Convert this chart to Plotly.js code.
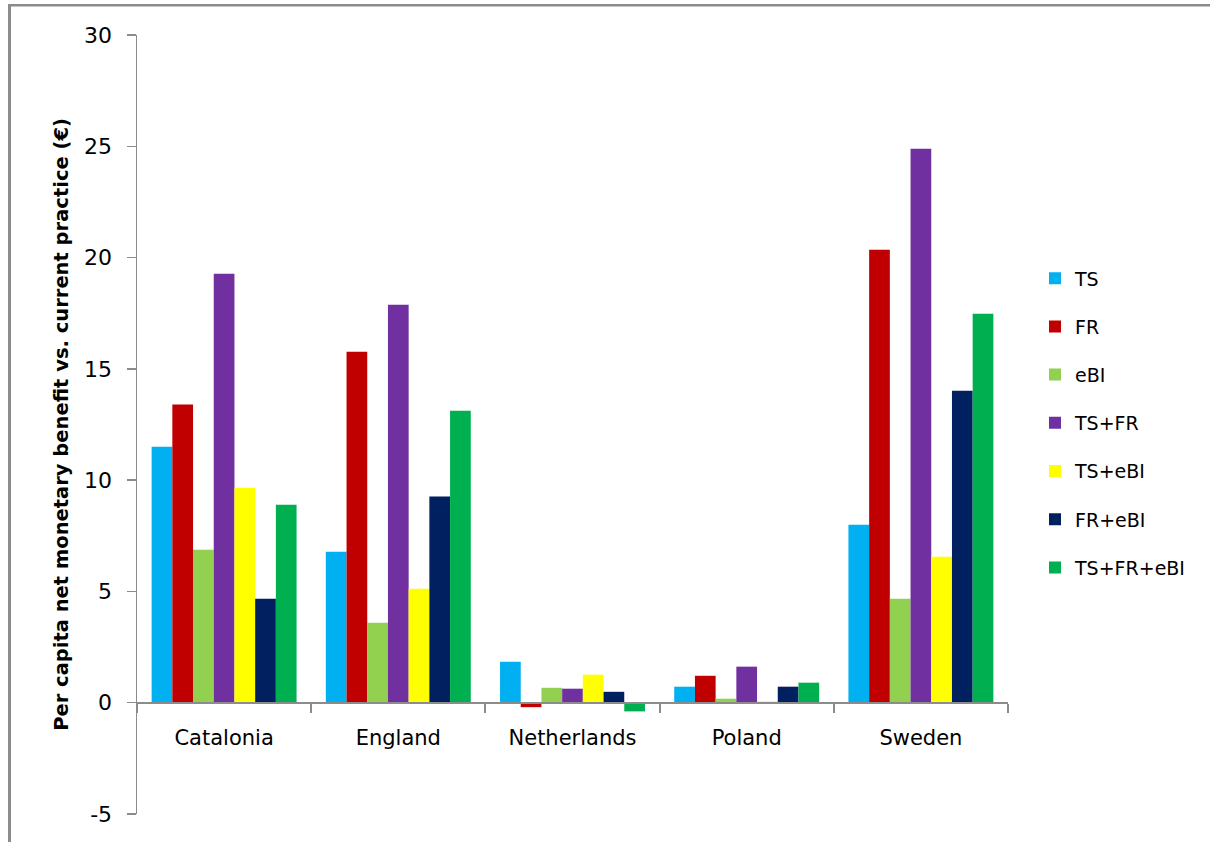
<!DOCTYPE html>
<html>
<head>
<meta charset="utf-8">
<script src="https://cdn.plot.ly/plotly-3.0.1.min.js"></script>
<style>
  html, body { margin: 0; padding: 0; background: #fff; overflow: hidden; }
  #chart { position: absolute; left: 0; top: 0; width: 1210px; height: 842px; }
</style>
</head>
<body>
<div id="chart"></div>
<script>
const countries = ["Catalonia", "England", "Netherlands", "Poland", "Sweden"];
const seriesNames = ["TS", "FR", "eBI", "TS+FR", "TS+eBI", "FR+eBI", "TS+FR+eBI"];
const TS        = [11.5, 6.78, 1.84, 0.72, 8.0];
const FR        = [13.4, 15.77, -0.2, 1.21, 20.35];
const eBI       = [6.87, 3.59, 0.67, 0.18, 4.67];
const TS_FR     = [19.27, 17.88, 0.63, 1.62, 24.89];
const TS_eBI    = [9.66, 5.12, 1.26, 0.06, 6.56];
const FR_eBI    = [4.67, 9.26, 0.49, 0.72, 14.02];
const TS_FR_eBI = [8.9, 13.12, -0.39, 0.9, 17.48];
const yTicks = [-5, 0, 5, 10, 15, 20, 25, 30];

const seriesValues = [TS, FR, eBI, TS_FR, TS_eBI, FR_eBI, TS_FR_eBI];
const colors = ["#00B0F0", "#C00000", "#92D050", "#7030A0", "#FFFF00", "#002060", "#00B050"];

const traces = seriesNames.map((name, i) => ({
  type: "bar",
  name: name,
  x: countries,
  y: seriesValues[i],
  marker: { color: colors[i], line: { width: 0 } },
  legendgroup: "g" + i
}));

const FONT = "'DejaVu Sans', Verdana, sans-serif";
const W = 1210, H = 842, ML = 137, MR = 202, MT = 35, MB = 28;
const pw = W - ML - MR, ph = H - MT - MB;
const px2x = p => (p - ML) / pw;
const px2y = p => (H - MB - p) / ph;
const frameColor = "#8c8c8c";

const layout = {
  width: W,
  height: H,
  margin: { l: ML, r: MR, t: MT, b: MB },
  paper_bgcolor: "#fff",
  plot_bgcolor: "rgba(0,0,0,0)",
  barmode: "group",
  bargap: 0.168,
  bargroupgap: 0,
  font: { family: FONT, color: "#000", size: 19 },
  showlegend: true,
  legend: {
    x: 1.031, y: 0.712, xanchor: "left", yanchor: "top",
    font: { family: FONT, size: 19, color: "#000" },
    tracegroupgap: 20.5,
    bgcolor: "rgba(0,0,0,0)"
  },
  shapes: [
    { type: "line", xref: "paper", yref: "paper", x0: px2x(9.5), x1: px2x(9.5), y0: px2y(842), y1: px2y(4),
      line: { color: frameColor, width: 3 } },
    { type: "line", xref: "paper", yref: "paper", x0: px2x(8), x1: px2x(1210), y0: px2y(5.3), y1: px2y(5.3),
      line: { color: frameColor, width: 2.6 } }
  ],
  xaxis: {
    type: "category",
    anchor: "free",
    position: 1 / 7,
    showline: true,
    linecolor: "#8c8c8c",
    linewidth: 2,
    ticks: "outside",
    tickson: "boundaries",
    ticklen: 9,
    tickwidth: 2,
    tickcolor: "#8c8c8c",
    ticklabelstandoff: 16,
    tickfont: { family: FONT, size: 21, color: "#000" },
    showgrid: false,
    zeroline: false
  },
  yaxis: {
    range: [-5, 30],
    tickvals: yTicks,
    ticktext: yTicks.map(String),
    showline: true,
    linecolor: "#8c8c8c",
    linewidth: 1.5,
    ticks: "outside",
    ticklen: 9,
    tickwidth: 1.5,
    tickcolor: "#8c8c8c",
    ticklabelstandoff: 10,
    tickfont: { family: FONT, size: 22, color: "#000" },
    showgrid: false,
    zeroline: false,
    title: {
      text: "Per capita net monetary benefit vs. current practice (€)",
      font: { family: FONT, size: 19.5, color: "#000", weight: "bold" },
      standoff: 10
    }
  }
};

Plotly.newPlot("chart", traces, layout, { displayModeBar: false, staticPlot: true });
</script>
</body>
</html>
